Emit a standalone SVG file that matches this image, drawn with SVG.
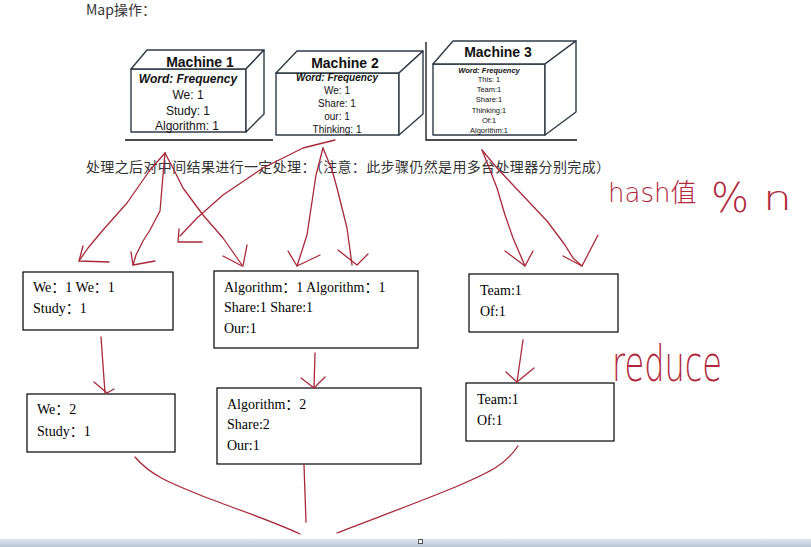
<svg xmlns="http://www.w3.org/2000/svg" width="811" height="547" viewBox="0 0 811 547">
<defs>
<linearGradient id="bar" x1="0" y1="0" x2="0" y2="1">
<stop offset="0" stop-color="#dfe6ee"/>
<stop offset="1" stop-color="#b9c5d3"/>
</linearGradient>
</defs>
<style>
.cap{font-family:"Noto Sans CJK SC","Liberation Sans",sans-serif;font-size:14px;fill:#333}
.cube{fill:#fff;stroke:#2f3a45;stroke-width:1.4;stroke-linejoin:round}
.frame{stroke:#111;stroke-width:1.3;fill:none}
.mt{font-family:"Liberation Sans","Open Sans",sans-serif;font-weight:bold;fill:#111;text-anchor:middle}
.mw{font-family:"Liberation Sans","Open Sans",sans-serif;font-weight:bold;font-style:italic;fill:#111;text-anchor:middle}
.mx{font-family:"Liberation Sans","Open Sans",sans-serif;fill:#111;text-anchor:middle}
.box{fill:#fff;stroke:#000;stroke-width:1.2}
.bt{font-family:"Liberation Serif","Noto Sans CJK SC",serif;font-size:14px;fill:#000}
.red{fill:none;stroke:#a8283a;stroke-width:1.3;stroke-linejoin:round;stroke-linecap:round}
.hand{font-family:"DejaVu Sans","Liberation Sans","Noto Sans CJK SC",sans-serif;font-weight:200;fill:#b0283c}
</style>
<rect width="811" height="547" fill="#fff"/>
<text class="cap" x="86" y="15">Map操作：</text>

<g id="machine1">
<rect class="cube" x="131" y="69" width="115" height="63"/>
<polygon class="cube" points="131,69 147,50 264,50 246,69"/>
<polygon class="cube" points="246,69 264,50 264,114 246,132"/>
<line class="frame" x1="125" y1="140" x2="273" y2="140"/>
<text class="mt" x="200" y="67" font-size="14">Machine 1</text>
<text class="mw" x="188" y="83" font-size="12">Word: Frequency</text>
<text class="mx" x="188" y="99" font-size="12">We: 1</text>
<text class="mx" x="188" y="115" font-size="12">Study: 1</text>
<text class="mx" x="187" y="130" font-size="12">Algorithm: 1</text>
</g>

<g id="machine2">
<rect class="cube" x="276" y="73" width="123" height="62"/>
<polygon class="cube" points="276,73 297,51 423,51 399,73"/>
<polygon class="cube" points="399,73 423,51 423,114 399,135"/>
<text class="mt" x="345" y="68" font-size="14">Machine 2</text>
<text class="mw" x="337" y="81" font-size="10">Word: Frequency</text>
<text class="mx" x="337" y="94" font-size="10">We: 1</text>
<text class="mx" x="337" y="107" font-size="10">Share: 1</text>
<text class="mx" x="337" y="120" font-size="10">our: 1</text>
<text class="mx" x="337" y="133" font-size="10">Thinking: 1</text>
</g>

<g id="machine3">
<rect class="cube" x="433" y="64" width="112" height="71"/>
<polygon class="cube" points="433,64 453,41 576,41 545,64"/>
<polygon class="cube" points="545,64 576,41 576,112 545,135"/>
<polyline class="frame" points="426,42 426,140 577,140"/>
<text class="mt" x="498" y="57" font-size="14">Machine 3</text>
<text class="mw" x="489" y="73" font-size="7.5">Word: Frequency</text>
<text class="mx" x="489" y="82" font-size="7.5">This: 1</text>
<text class="mx" x="489" y="92" font-size="7.5">Team:1</text>
<text class="mx" x="489" y="102" font-size="7.5">Share:1</text>
<text class="mx" x="489" y="113" font-size="7.5">Thinking:1</text>
<text class="mx" x="489" y="123" font-size="7.5">Of:1</text>
<text class="mx" x="489" y="133" font-size="7.5">Algorithm:1</text>
</g>

<text class="cap" x="86" y="172" textLength="524" lengthAdjust="spacing">处理之后对中间结果进行一定处理：（注意：此步骤仍然是用多台处理器分别完成）</text>

<g id="boxA">
<rect class="box" x="23" y="272" width="150" height="58"/>
<text class="bt" x="33" y="292">We：1 We：1</text>
<text class="bt" x="33" y="313">Study：1</text>
</g>
<g id="boxB">
<rect class="box" x="214" y="271" width="204" height="77"/>
<text class="bt" x="224" y="292">Algorithm：1 Algorithm：1</text>
<text class="bt" x="224" y="312">Share:1 Share:1</text>
<text class="bt" x="224" y="333">Our:1</text>
</g>
<g id="boxC">
<rect class="box" x="469" y="274" width="149" height="58"/>
<text class="bt" x="480" y="295">Team:1</text>
<text class="bt" x="480" y="316">Of:1</text>
</g>
<g id="boxD">
<rect class="box" x="27" y="394" width="148" height="58"/>
<text class="bt" x="37" y="414">We：2</text>
<text class="bt" x="37" y="436">Study：1</text>
</g>
<g id="boxE">
<rect class="box" x="217" y="388" width="204" height="76"/>
<text class="bt" x="227" y="409">Algorithm：2</text>
<text class="bt" x="227" y="429">Share:2</text>
<text class="bt" x="227" y="450">Our:1</text>
</g>
<g id="boxF">
<rect class="box" x="466" y="383" width="148" height="58"/>
<text class="bt" x="477" y="404">Team:1</text>
<text class="bt" x="477" y="425">Of:1</text>
</g>

<g id="connectors">
<polyline class="red" points="165,153 150,170 127,203 103,230 88,248 79,261"/>
<polyline class="red" points="83,246 79,261 109,262"/>
<polyline class="red" points="165,153 163,175 160,211 150,230 143,241 136,255 133,265"/>
<polyline class="red" points="131,252 133,265 155,261"/>
<polyline class="red" points="165,153 175,172 183,188 203,215 223,238 235,255 242,265"/>
<path class="red" d="M223,256 L242,266 M247,245 L243,266"/>
<polyline class="red" points="335,140 303,148 263,168 223,195 197,218 180,236"/>
<polyline class="red" points="179,229 178,242 202,242"/>
<polyline class="red" points="323,148 316,175 313,195 307,235 297,266"/>
<polyline class="red" points="288,251 297,266 320,255"/>
<polyline class="red" points="323,148 332,170 337,188 347,228 352,265"/>
<polyline class="red" points="338,250 357,265 368,254"/>
<polyline class="red" points="482,150 490,170 497,188 505,215 513,238 525,266"/>
<polyline class="red" points="505,251 525,266 533,251"/>
<polyline class="red" points="482,150 497,168 513,185 547,221 565,245 573,258 582,266"/>
<polyline class="red" points="563,256 582,266 598,235"/>
<polyline class="red" points="101,337 103,365 105,393"/>
<polyline class="red" points="94,382 107,393 114,389"/>
<polyline class="red" points="315,353 314,388"/>
<polyline class="red" points="301,378 314,388 325,377"/>
<polyline class="red" points="523,340 517,382"/>
<polyline class="red" points="506,372 517,382 534,368"/>
<path class="red" d="M135,457 C150,475 170,483 200,495 S270,520 300,534"/>
<path class="red" d="M304,465 L306,522"/>
<path class="red" d="M518,446 C505,465 490,472 460,485 S370,520 337,533"/>
</g>

<text class="hand" x="608" y="202" font-size="26">hash值 <tspan x="711" y="212" font-size="40">%</tspan><tspan x="763" y="210" font-size="34" textLength="29" lengthAdjust="spacingAndGlyphs">n</tspan></text>
<text class="hand" x="612" y="381" font-size="50" textLength="110" lengthAdjust="spacingAndGlyphs">reduce</text>

<rect x="0" y="539" width="811" height="8" fill="url(#bar)"/>
<rect x="418.5" y="539.5" width="4" height="4" fill="#fff" stroke="#555" stroke-width="1"/>
</svg>
